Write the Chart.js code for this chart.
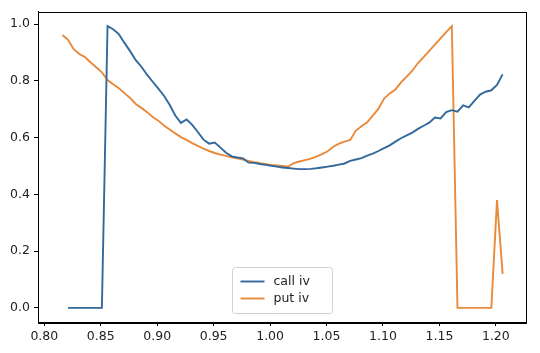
<!DOCTYPE html>
<html lang="en">
<head>
  <meta charset="UTF-8">
  <title>call iv / put iv</title>
  <script src="https://cdn.jsdelivr.net/npm/chart.js"></script>
  <style>
    body { margin: 0; padding: 0; background: #ffffff; }
    #wrap { width: 540px; height: 353px; }
  </style>
</head>
<body>
  <div id="wrap"><canvas id="ivChart" width="540" height="353"></canvas></div>

  <script>
    // moneyness (x) values
    const moneyness = [
      0.816, 0.821, 0.826, 0.831, 0.836, 0.841, 0.846, 0.851, 0.856, 0.861,
      0.866, 0.871, 0.876, 0.881, 0.886, 0.891, 0.896, 0.901, 0.906, 0.911,
      0.916, 0.921, 0.926, 0.931, 0.936, 0.941, 0.946, 0.951, 0.956, 0.961,
      0.966, 0.971, 0.976, 0.981, 0.986, 0.991, 0.996, 1.001, 1.006, 1.011,
      1.016, 1.021, 1.026, 1.031, 1.036, 1.041, 1.046, 1.051, 1.056, 1.061,
      1.066, 1.071, 1.076, 1.081, 1.086, 1.091, 1.096, 1.101, 1.106, 1.111,
      1.116, 1.121, 1.126, 1.131, 1.136, 1.141, 1.146, 1.151, 1.156, 1.161,
      1.166, 1.171, 1.176, 1.181, 1.186, 1.191, 1.196, 1.201, 1.206
    ];

    const callIv = [
      null, 0, 0, 0, 0, 0, 0, 0, 0.993, 0.982,
      0.965, 0.934, 0.905, 0.873, 0.850, 0.822, 0.797, 0.773, 0.748, 0.716,
      0.678, 0.652, 0.664, 0.645, 0.620, 0.593, 0.579, 0.583, 0.565, 0.547,
      0.534, 0.530, 0.527, 0.512, 0.511, 0.507, 0.504, 0.501, 0.498, 0.495,
      0.493, 0.491, 0.489, 0.489, 0.490, 0.492, 0.495, 0.498, 0.501, 0.505,
      0.509, 0.518, 0.523, 0.528, 0.537, 0.544, 0.553, 0.563, 0.573, 0.586,
      0.598, 0.608, 0.618, 0.631, 0.642, 0.653, 0.671, 0.668, 0.690, 0.697,
      0.692, 0.714, 0.707, 0.730, 0.752, 0.762, 0.767, 0.786, 0.823
    ];

    const putIv = [
      0.962, 0.945, 0.912, 0.895, 0.884, 0.865, 0.848, 0.830, 0.803, 0.788,
      0.774, 0.757, 0.740, 0.719, 0.705, 0.690, 0.673, 0.660, 0.643, 0.629,
      0.615, 0.602, 0.592, 0.581, 0.571, 0.561, 0.553, 0.546, 0.540, 0.536,
      0.531, 0.527, 0.523, 0.518, 0.514, 0.510, 0.507, 0.504, 0.502, 0.500,
      0.498, 0.510, 0.516, 0.521, 0.526, 0.533, 0.542, 0.552, 0.568, 0.579,
      0.586, 0.592, 0.625, 0.640, 0.654, 0.678, 0.702, 0.738, 0.756, 0.770,
      0.795, 0.815, 0.836, 0.863, 0.884, 0.906, 0.928, 0.950, 0.972, 0.993,
      0, 0, 0, 0, 0, 0, 0, 0.38, 0.12
    ];

    const xTicks = [0.80, 0.85, 0.90, 0.95, 1.00, 1.05, 1.10, 1.15, 1.20];
    const yTicks = [0.0, 0.2, 0.4, 0.6, 0.8, 1.0];

    const seriesNames = ['call iv', 'put iv'];
    const seriesColors = ['#33689b', '#e9893a'];

    const FONT = 'DejaVu Sans';

    const toPoints = (ys) => moneyness.map((x, i) => ({ x: x, y: ys[i] }));

    // box round the plot + legend in the lower centre
    const framePlugin = {
      id: 'frame',
      afterDraw(chart) {
        const ctx = chart.ctx;
        const a = chart.chartArea;
        ctx.save();
        ctx.strokeStyle = '#000';
        ctx.lineWidth = 1;
        ctx.strokeRect(Math.round(a.left) + 0.5, Math.round(a.top) + 0.5,
          Math.round(a.right - a.left), Math.round(a.bottom - a.top));

        // legend
        const boxW = 100, boxH = 46;
        const bx = Math.round((a.left + a.right) / 2 - boxW / 2) + 0.5;
        const by = Math.round(a.bottom - 9 - boxH) + 0.5;
        ctx.fillStyle = 'rgba(255,255,255,0.8)';
        ctx.strokeStyle = '#d0d0d0';
        ctx.beginPath();
        ctx.roundRect(bx, by, boxW, boxH, 3);
        ctx.fill();
        ctx.stroke();

        ctx.font = '12.5px "' + FONT + '"';
        ctx.textBaseline = 'middle';
        seriesNames.forEach((name, i) => {
          const cy = by + 14 + i * 17;
          ctx.strokeStyle = seriesColors[i];
          ctx.lineWidth = 1.9;
          ctx.beginPath();
          ctx.moveTo(bx + 8, cy);
          ctx.lineTo(bx + 32, cy);
          ctx.stroke();
          ctx.fillStyle = '#222';
          ctx.fillText(name, bx + 41, cy);
        });
        ctx.restore();
      }
    };

    new Chart(document.getElementById('ivChart').getContext('2d'), {
      type: 'line',
      data: {
        datasets: seriesNames.map((name, i) => ({
          label: name,
          data: toPoints(i === 0 ? callIv : putIv),
          borderColor: seriesColors[i],
          borderWidth: 1.9,
          pointRadius: 0,
          tension: 0,
          fill: false
        }))
      },
      options: {
        responsive: false,
        animation: false,
        layout: { padding: { left: 0, right: 14, top: 5, bottom: 0 } },
        plugins: {
          legend: { display: false },
          tooltip: { enabled: false }
        },
        scales: {
          x: {
            type: 'linear',
            min: 0.7944,
            max: 1.2267,
            afterBuildTicks: (scale) => { scale.ticks = xTicks.map(v => ({ value: v })); },
            afterFit: (scale) => { scale.height = 31; },
            grid: { drawOnChartArea: false, drawTicks: true, tickLength: 4, color: '#000' },
            border: { display: true, color: '#000' },
            ticks: {
              color: '#222',
              padding: 3,
              maxRotation: 0,
              font: { family: FONT, size: 12.5 },
              callback: (v) => Number(v).toFixed(2)
            }
          },
          y: {
            min: -0.0497,
            max: 1.0447,
            afterBuildTicks: (scale) => { scale.ticks = yTicks.map(v => ({ value: v })); },
            afterFit: (scale) => { scale.width = 38; },
            grid: { drawOnChartArea: false, drawTicks: true, tickLength: 4, color: '#000' },
            border: { display: true, color: '#000' },
            ticks: {
              color: '#222',
              padding: 4,
              font: { family: FONT, size: 12.5 },
              callback: (v) => Number(v).toFixed(1)
            }
          }
        }
      },
      plugins: [framePlugin]
    });
  </script>
</body>
</html>
